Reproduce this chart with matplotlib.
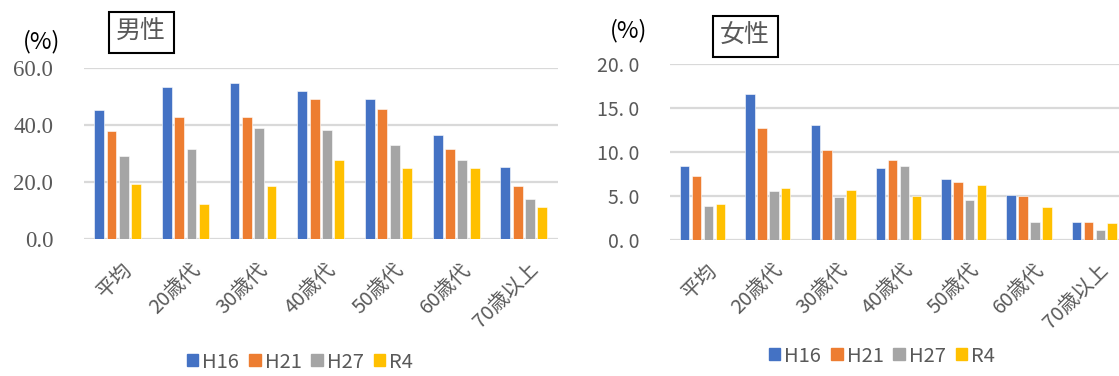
import numpy as np
import matplotlib
matplotlib.use('Agg')
import matplotlib.pyplot as plt
from matplotlib.patches import Patch

plt.rcParams['font.family'] = ['Noto Sans CJK JP', 'DejaVu Sans']

# data
categories = ['平均', '20歳代', '30歳代', '40歳代', '50歳代', '60歳代', '70歳以上']
series = ['H16', 'H21', 'H27', 'R4']
male_h16 = [45.2, 53.1, 54.6, 51.7, 49.2, 36.6, 25.4]
male_h21 = [37.7, 42.9, 42.6, 48.9, 45.6, 31.6, 18.5]
male_h27 = [29.0, 31.6, 38.9, 38.2, 32.9, 27.7, 14.1]
male_r4 = [19.2, 12.5, 18.8, 27.6, 25.0, 24.9, 11.2]
female_h16 = [8.4, 16.6, 13.1, 8.2, 7.0, 5.1, 2.0]
female_h21 = [7.3, 12.8, 10.3, 9.1, 6.6, 5.0, 2.0]
female_h27 = [3.9, 5.6, 4.9, 8.4, 4.5, 2.0, 1.1]
female_r4 = [4.1, 5.9, 5.7, 5.0, 6.3, 3.8, 1.9]

colors = ['#4472C4', '#ED7D31', '#A5A5A5', '#FFC000']
txt = '#595959'

fig = plt.figure(figsize=(11.19, 3.76), dpi=100)

def draw(ax, data, ymax, step, fmt, tickfont, tsize):
    x = np.arange(len(categories))
    slot = 0.182
    for i, vals in enumerate(data):
        ax.bar(x + (i - 1.5) * slot, vals, width=0.145, color=colors[i],
               edgecolor='white', linewidth=0.4, zorder=3)
    ax.set_xlim(-0.5, len(categories) - 0.5)
    ax.set_ylim(0, ymax)
    ax.set_yticks(np.arange(0, ymax + 0.01, step))
    ax.set_yticklabels([fmt(v) for v in np.arange(0, ymax + 0.01, step)],
                       family=tickfont, color=txt, fontsize=tsize)
    ax.yaxis.grid(True, color='#D9D9D9', linewidth=1.6, zorder=0)
    ax.set_axisbelow(True)
    for s in ax.spines.values():
        s.set_visible(False)
    ax.tick_params(axis='y', length=0, pad=22)
    ax.tick_params(axis='x', length=0, pad=14)
    ax.set_xticks(x + 0.06)
    ax.set_xticklabels(categories, rotation=45, ha='right', rotation_mode='anchor',
                       color=txt, fontsize=14.5)

ax1 = fig.add_axes([0.0749, 0.3636, 0.4235, 0.4564])
draw(ax1, [male_h16, male_h21, male_h27, male_r4], 60, 20,
     lambda v: '%.1f' % v, 'Liberation Serif', 16.5)

ax2 = fig.add_axes([0.5987, 0.3617, 0.4084, 0.467])
draw(ax2, [female_h16, female_h21, female_h27, female_r4], 20, 5,
     lambda v: ('%.1f' % v).replace('.', '. '), 'Noto Sans CJK JP', 14)

# unit labels
fig.text(42 / 1119, 1 - 42 / 376, '(%)', ha='center', va='center', color='black', fontsize=17)
fig.text(629 / 1119, 1 - 31 / 376, '(%)', ha='center', va='center', color='black', fontsize=17)

# title boxes
box = dict(boxstyle='square,pad=0.3', fc='white', ec='black', lw=1.5)
fig.text(141 / 1119, 1 - 32 / 376, '男性', ha='center', va='center', color=txt,
         fontsize=18, bbox=box)
fig.text(745 / 1119, 1 - 36 / 376, '女性', ha='center', va='center', color=txt,
         fontsize=18, bbox=box)

# legends
handles = [Patch(color=c, label=s) for c, s in zip(colors, series)]
for cx, cy in [(300 / 1119, 1 - 362 / 376), (882 / 1119, 1 - 356 / 376)]:
    fig.legend(handles=handles, loc='center', bbox_to_anchor=(cx, cy), ncol=4,
               frameon=False, fontsize=14.5, labelcolor=txt, handlelength=0.55,
               handleheight=0.55, handletextpad=0.2, columnspacing=0.5,
               borderpad=0)

fig.savefig('out.png', dpi=100)
